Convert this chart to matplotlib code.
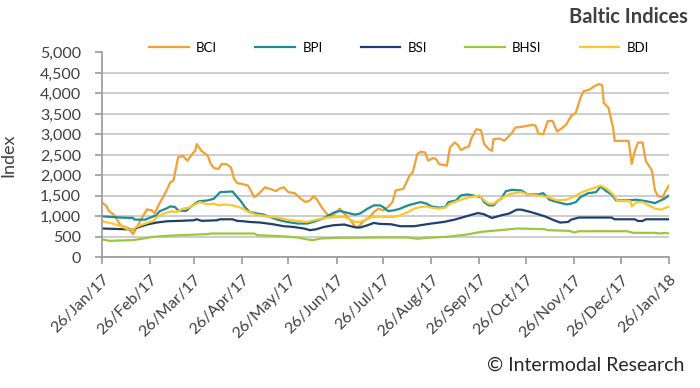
import matplotlib
matplotlib.use("Agg")
import matplotlib.pyplot as plt
import matplotlib.dates as mdates
from matplotlib.patches import Rectangle
import pandas as pd

plt.rcParams['font.family'] = ['Lato', 'DejaVu Sans']

start = pd.Timestamp('2017-01-26')
tick_dates = ['2017-01-26', '2017-02-26', '2017-03-26', '2017-04-26', '2017-05-26',
              '2017-06-26', '2017-07-26', '2017-08-26', '2017-09-26', '2017-10-26',
              '2017-11-26', '2017-12-26', '2018-01-26']
y_ticks = [0, 500, 1000, 1500, 2000, 2500, 3000, 3500, 4000, 4500, 5000]

# days after 26/Jan/17, index values
bci_day = [0, 3, 4, 8, 12, 17, 20, 22, 26, 29,
           32, 34, 37, 41, 44, 46, 49, 52, 55, 58,
           60, 61, 64, 68, 70, 72, 75, 77, 80, 83,
           85, 87, 90, 94, 98, 101, 105, 108, 112, 114,
           117, 120, 124, 128, 131, 134, 136, 138, 142, 145,
           148, 151, 153, 156, 160, 163, 165, 169, 172, 175,
           178, 181, 184, 187, 189, 191, 194, 198, 200, 203,
           205, 208, 210, 213, 215, 217, 220, 222, 224, 227,
           229, 231, 234, 236, 238, 241, 244, 246, 249, 251,
           252, 256, 259, 261, 264, 266, 270, 273, 277, 279,
           281, 284, 287, 290, 293, 296, 299, 302, 305, 308,
           310, 314, 317, 320, 322, 323, 326, 329, 330, 339,
           341, 343, 345, 348, 350, 352, 354, 356, 358, 361,
           363, 365]
bci = [1340, 1250, 1150, 1025, 780, 710, 565, 710, 985, 1170,
       1146, 1073, 1316, 1590, 1833, 1873, 2440, 2480, 2358, 2520,
       2600, 2763, 2600, 2480, 2278, 2181, 2157, 2278, 2278, 2196,
       1915, 1808, 1794, 1752, 1470, 1551, 1712, 1672, 1615, 1672,
       1712, 1590, 1566, 1430, 1348, 1389, 1486, 1430, 1188, 1050,
       1001, 1105, 1188, 1067, 904, 742, 742, 904, 970, 1105,
       1188, 1146, 1227, 1348, 1631, 1648, 1672, 1995, 2075, 2521,
       2577, 2560, 2358, 2424, 2400, 2278, 2254, 2237, 2681, 2802,
       2746, 2618, 2681, 2698, 2923, 3127, 3103, 2763, 2642, 2600,
       2884, 2899, 2843, 2923, 3045, 3166, 3183, 3207, 3231, 3220,
       3021, 3005, 3328, 3328, 3070, 3151, 3248, 3450, 3530, 3893,
       4055, 4097, 4177, 4233, 4200, 3772, 3651, 3166, 2843, 2843,
       2278, 2600, 2802, 2802, 2358, 2237, 2116, 1631, 1486, 1470,
       1631, 1752]

bpi_day = [0, 12, 20, 21, 28, 31, 35, 37, 42, 44,
           47, 49, 54, 57, 62, 68, 72, 76, 84, 87,
           89, 92, 95, 100, 104, 108, 113, 119, 126, 132,
           136, 142, 146, 150, 153, 156, 160, 163, 166, 171,
           175, 179, 181, 184, 188, 192, 197, 201, 205, 209,
           212, 217, 221, 223, 228, 231, 235, 239, 244, 246,
           249, 252, 255, 257, 260, 264, 270, 274, 281, 284,
           288, 293, 299, 302, 305, 308, 313, 318, 321, 324,
           328, 331, 338, 344, 350, 356, 362, 365]
bpi = [1000, 970, 960, 920, 920, 970, 1025, 1122, 1202, 1243,
       1227, 1146, 1130, 1227, 1365, 1389, 1430, 1590, 1607, 1470,
       1389, 1227, 1105, 1067, 1042, 985, 920, 863, 824, 824,
       863, 945, 1025, 1105, 1130, 1105, 1067, 1042, 1067, 1188,
       1268, 1268, 1227, 1130, 1146, 1188, 1268, 1309, 1348, 1309,
       1243, 1212, 1227, 1348, 1389, 1510, 1535, 1510, 1470, 1348,
       1268, 1268, 1389, 1430, 1615, 1648, 1631, 1535, 1535, 1566,
       1406, 1348, 1292, 1309, 1348, 1470, 1566, 1590, 1728, 1631,
       1535, 1389, 1389, 1406, 1372, 1323, 1430, 1510]

bsi_day = [0, 20, 22, 29, 35, 42, 50, 59, 61, 64,
           74, 76, 84, 87, 91, 95, 102, 110, 117, 123,
           130, 134, 138, 143, 149, 156, 160, 164, 166, 171,
           175, 179, 186, 192, 201, 205, 212, 220, 227, 233,
           242, 246, 251, 257, 262, 267, 270, 276, 285, 291,
           295, 300, 302, 307, 328, 330, 343, 345, 348, 350,
           365]
bsi = [703, 679, 718, 800, 848, 880, 890, 904, 928, 890,
       904, 928, 928, 890, 880, 863, 848, 807, 759, 742,
       703, 662, 686, 742, 783, 800, 759, 727, 727, 783,
       839, 815, 807, 759, 759, 783, 824, 863, 920, 985,
       1081, 1050, 960, 1025, 1067, 1163, 1163, 1105, 1001, 904,
       848, 863, 920, 970, 970, 928, 928, 887, 887, 928,
       928]

bhsi_day = [0, 5, 20, 27, 33, 42, 50, 68, 70, 98,
            100, 115, 126, 132, 136, 141, 153, 181, 197, 203,
            209, 222, 235, 244, 261, 267, 285, 287, 301, 304,
            307, 338, 342, 355, 360, 362, 365]
bhsi = [436, 402, 420, 460, 500, 524, 540, 565, 581, 581,
        540, 516, 484, 436, 420, 460, 476, 484, 484, 452,
        476, 500, 557, 621, 679, 703, 686, 662, 645, 605,
        637, 637, 597, 597, 581, 597, 581]

bdi_day = [0, 7, 12, 17, 20, 22, 29, 33, 36, 41,
           45, 48, 52, 56, 59, 63, 68, 72, 75, 79,
           84, 88, 91, 93, 99, 106, 113, 119, 126, 132,
           138, 145, 151, 156, 160, 163, 166, 170, 174, 179,
           188, 192, 197, 201, 205, 209, 212, 217, 221, 224,
           231, 237, 243, 246, 249, 252, 255, 259, 263, 270,
           274, 280, 287, 293, 299, 304, 309, 315, 321, 325,
           329, 332, 340, 341, 344, 348, 352, 356, 360, 363,
           365]
bdi = [880, 824, 759, 679, 679, 742, 839, 887, 1001, 1081,
       1122, 1105, 1188, 1212, 1268, 1348, 1292, 1309, 1268, 1292,
       1268, 1227, 1188, 1130, 1042, 1001, 970, 920, 887, 863,
       920, 970, 985, 985, 920, 863, 863, 920, 985, 990,
       985, 1025, 1105, 1188, 1227, 1243, 1212, 1188, 1212, 1309,
       1406, 1470, 1510, 1389, 1309, 1309, 1389, 1486, 1551, 1590,
       1535, 1510, 1470, 1389, 1406, 1486, 1590, 1672, 1752, 1672,
       1535, 1372, 1372, 1243, 1348, 1348, 1268, 1188, 1163, 1212,
       1243]

series = [
    ('BCI', bci_day, bci, '#F2A033'),
    ('BPI', bpi_day, bpi, '#1E8C93'),
    ('BSI', bsi_day, bsi, '#1F3F6E'),
    ('BHSI', bhsi_day, bhsi, '#9DC63F'),
    ('BDI', bdi_day, bdi, '#FCC72C'),
]

W, H = 700, 388
fig = plt.figure(figsize=(W / 100, H / 100), dpi=100)
ax = fig.add_axes([102 / W, 1 - 257.3 / H, (669 - 102) / W, (257.3 - 52.5) / H])

handles = []
for name, days, vals, col in series:
    dates = start + pd.to_timedelta(days, unit='D')
    ln, = ax.plot(dates, vals, color=col, lw=1.6, label=name, solid_joinstyle='round')
    handles.append(ln)

ax.set_ylim(0, 5000)
ax.set_xlim(pd.Timestamp(tick_dates[0]), pd.Timestamp(tick_dates[-1]))
ax.set_yticks(y_ticks)
ax.set_yticklabels([f'{v:,}' for v in y_ticks])
ax.set_xticks([pd.Timestamp(d) for d in tick_dates])
ax.xaxis.set_major_formatter(mdates.DateFormatter('%d/%b/%y'))

ax.grid(axis='y', color='#c9c9c9', lw=1.3)
ax.set_axisbelow(True)
for s in ['top', 'right']:
    ax.spines[s].set_visible(False)
for s in ['left', 'bottom']:
    ax.spines[s].set_color('#9a9a9a')
    ax.spines[s].set_linewidth(1.2)
ax.tick_params(axis='both', length=5, width=1.2, color='#9a9a9a',
               labelcolor='#404040')
ax.tick_params(axis='y', pad=10, labelsize=11.5)
ax.tick_params(axis='x', pad=6, labelsize=11.5)
for lab in ax.get_xticklabels():
    lab.set_rotation(45)
    lab.set_ha('right')
    lab.set_rotation_mode('anchor')

# white band behind legend (hides top gridline)
fig.patches.append(Rectangle((118 / W, 1 - 60 / H), (675 - 118) / W, 20 / H,
                             transform=fig.transFigure, facecolor='white',
                             edgecolor='none', zorder=3))

fig.legend(handles=handles, loc='center', bbox_to_anchor=(399 / W, 1 - 48 / H),
           ncol=5, frameon=False, fontsize=9.5, handlelength=3.0,
           handletextpad=0.55, columnspacing=2.9)

fig.text(8 / W, 1 - 155 / H, 'Index', rotation=90, ha='center', va='center',
         fontsize=13, color='#404040')
fig.text(688 / W, 1 - 17 / H, 'Baltic Indices', ha='right', va='center',
         fontsize=14.5, fontweight='bold', color='#404040')
fig.text(684 / W, 1 - 365 / H, '\u00a9 Intermodal Research', ha='right', va='center',
         fontsize=14, color='#262626')

fig.savefig('out.png', dpi=100)
